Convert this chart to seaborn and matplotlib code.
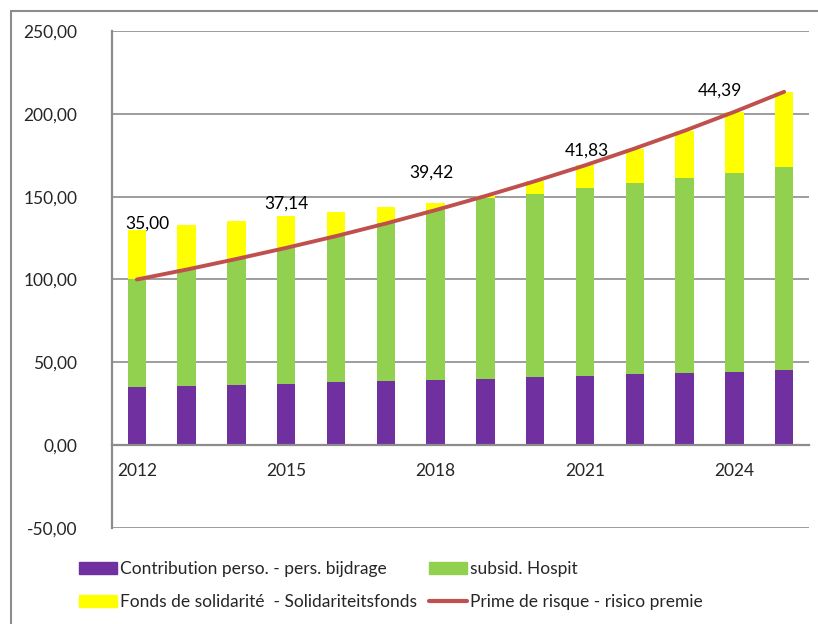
""" Stacked bars of the hospital premium, with the risk premium as a line """

import numpy as np
import pandas as pd
import matplotlib
matplotlib.use("Agg")
import matplotlib.pyplot as plt
from matplotlib.patches import Patch
from matplotlib.lines import Line2D
from matplotlib.ticker import FixedLocator, FuncFormatter
import seaborn as sns

# Values
years = [2012, 2013, 2014, 2015, 2016, 2017, 2018, 2019, 2020, 2021, 2022, 2023, 2024, 2025]
contribution = [35.00, 35.70, 36.41, 37.14, 37.88, 38.64, 39.42, 40.20, 41.01, 41.83, 42.66, 43.52, 44.39, 45.28]
subsid = [65.0, 70.4, 76.0, 82.0, 88.3, 95.2, 102.4, 109.2, 110.4, 113.3, 115.8, 117.8, 120.1, 122.6]
fonds = [30.0, 26.5, 22.8, 18.9, 14.5, 9.7, 4.6, 1.0, 8.0, 13.8, 20.6, 28.5, 36.7, 45.4]
prime = [100.0, 106.0, 112.4, 119.1, 126.2, 133.8, 141.9, 150.4, 159.4, 168.9, 179.1, 189.8, 201.2, 213.3]
label_years = [2012, 2015, 2018, 2021, 2024]

series_names = ["Contribution perso. - pers. bijdrage", "subsid. Hospit",
                "Fonds de solidarité  - Solidariteitsfonds", "Prime de risque - risico premie"]
colors = {"purple": "#7030A0", "green": "#92D050", "yellow": "#FFFF00", "red": "#C0504D"}
grey = "#8C8C8C"
fs = 12.5

# Label offsets in pixels (x, y) from the top of the stacked bar
label_offsets = {2012: (10, 6), 2015: (0, 13), 2018: (-4, 30), 2021: (2, 15), 2024: (-14, 21)}

df = pd.DataFrame({"year": [str(y) for y in years],
                   "contribution": contribution, "subsid": subsid, "fonds": fonds})
df["green_top"] = df["contribution"] + df["subsid"]
df["total"] = df["green_top"] + df["fonds"]

sns.set_style("white")
plt.rcParams["font.family"] = ["Lato", "DejaVu Sans"]
plt.rcParams["font.size"] = fs

fig = plt.figure(figsize=(8.18, 6.24), dpi=100)
ax = fig.add_axes([112 / 818, 1 - 528 / 624, (809 - 112) / 818, (528 - 31) / 624])

# Stacked bars: draw cumulative heights from tallest to shortest
bar_kw = dict(x="year", width=0.37, saturation=1, errorbar=None, linewidth=0, ax=ax)
sns.barplot(data=df, y="total", color=colors["yellow"], **bar_kw)
sns.barplot(data=df, y="green_top", color=colors["green"], **bar_kw)
sns.barplot(data=df, y="contribution", color=colors["purple"], **bar_kw)

sns.lineplot(x=np.arange(len(years)), y=prime, color=colors["red"], linewidth=2.8, ax=ax)

# Value labels
for yr in label_years:
    i = years.index(yr)
    dx, dy = label_offsets[yr]
    ax.annotate(f"{contribution[i]:.2f}".replace(".", ","), (i, df["total"][i]),
                xytext=(dx, dy), textcoords="offset pixels", ha="center", va="center",
                fontsize=fs, color="black")

# Axes
ax.set_ylim(-50, 250)
ax.set_xlim(-0.5, len(years) - 0.5)
ax.set_yticks(np.arange(-50, 251, 50))
ax.yaxis.set_major_formatter(FuncFormatter(lambda v, p: f"{v:.2f}".replace(".", ",")))
ax.set_xlabel("")
ax.set_ylabel("")

ax.xaxis.set_major_locator(FixedLocator(np.arange(-0.5, len(years), 1)))
ax.xaxis.set_major_formatter(FuncFormatter(lambda v, p: ""))
ax.xaxis.set_minor_locator(FixedLocator(np.arange(len(years))))
ax.set_xticklabels([str(y) if y in label_years else "" for y in years], minor=True)
ax.tick_params(axis="x", which="major", direction="out", length=4, width=1.2, color=grey)
ax.tick_params(axis="x", which="minor", length=0, pad=13, labelsize=fs)
ax.tick_params(axis="y", direction="out", length=5, width=1.2, color=grey, pad=20, labelsize=fs)

ax.grid(axis="y", color=grey, linewidth=1.2)
ax.grid(axis="x", visible=False)
ax.set_axisbelow(True)
for s in ["top", "right"]:
    ax.spines[s].set_visible(False)
ax.spines["bottom"].set_position(("data", 0))
for s in ["bottom", "left"]:
    ax.spines[s].set_color(grey)
    ax.spines[s].set_linewidth(1.6)

# Legend below the plot
handles = [Patch(color=colors["purple"]), Patch(color=colors["green"]),
           Patch(color=colors["yellow"]), Line2D([], [], color=colors["red"], linewidth=3)]
order = [0, 2, 1, 3]
fig.legend([handles[k] for k in order], [series_names[k] for k in order], ncol=2,
           loc="upper left", bbox_to_anchor=(79 / 818, 1 - 561 / 624), frameon=False,
           borderpad=0, borderaxespad=0, handlelength=2.2, handleheight=0.7,
           handletextpad=0.15, columnspacing=0.7, labelspacing=1.0, fontsize=fs)

# Chart area border (left and top edges)
fig.add_artist(Line2D([10.5 / 818, 10.5 / 818], [0, 1 - 10.5 / 624], transform=fig.transFigure,
                      color=grey, linewidth=1.5))
fig.add_artist(Line2D([10.5 / 818, 1], [1 - 10.5 / 624, 1 - 10.5 / 624], transform=fig.transFigure,
                      color=grey, linewidth=1.5))

fig.savefig("out.png", dpi=100)
